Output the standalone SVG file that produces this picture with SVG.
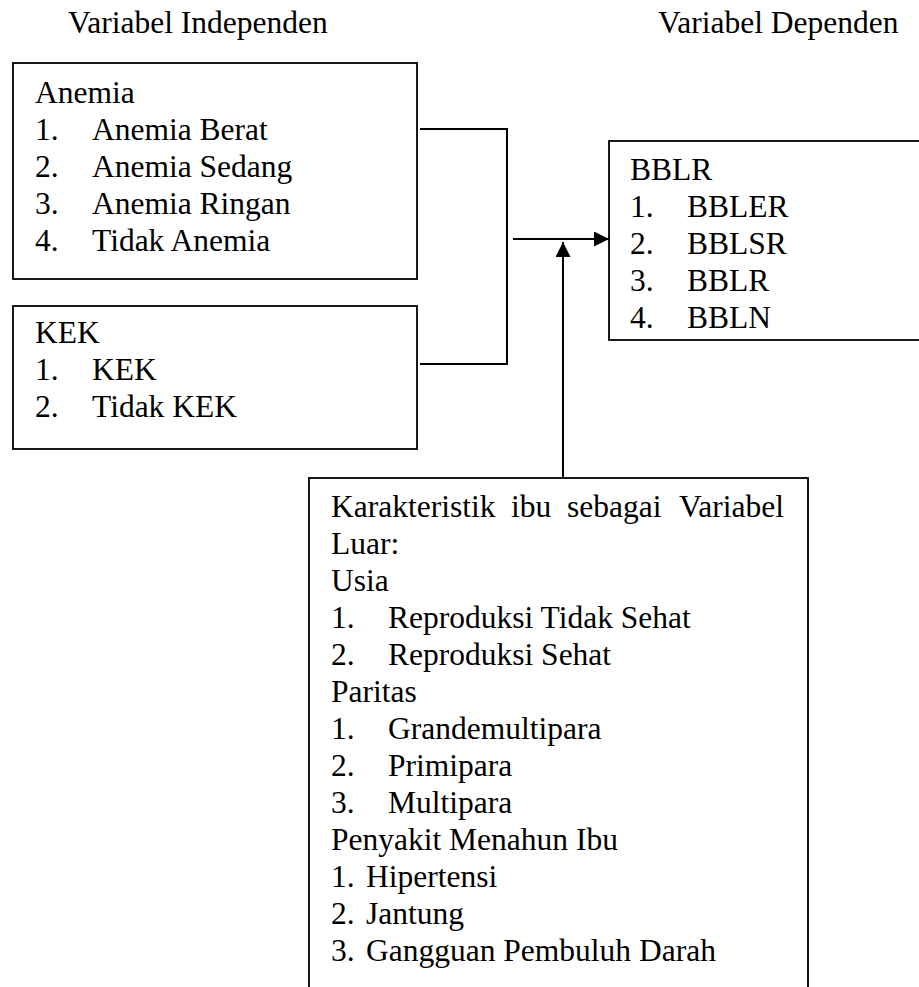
<svg xmlns="http://www.w3.org/2000/svg" width="919" height="987" viewBox="0 0 919 987">
<defs>
<style>
text{font-family:"Liberation Serif","Times New Roman",serif;font-size:31.5px;fill:#000}
.box{fill:#fff;stroke:#000;stroke-width:1.8}
.ln{fill:none;stroke:#000;stroke-width:2}
</style>
<marker id="ah" viewBox="0 0 15 15" refX="15" refY="7.5" markerWidth="15" markerHeight="15" markerUnits="userSpaceOnUse" orient="auto">
<path d="M0,0 L15,7.5 L0,15 Z" fill="#000"/>
</marker>
</defs>
<rect width="919" height="987" fill="#fff"/>
<text x="68" y="33">Variabel Independen</text>
<text x="658" y="33">Variabel Dependen</text>
<g id="anemia">
<rect class="box" x="13" y="63" width="404" height="216"/>
<text x="35" y="103">Anemia</text>
<text x="35" y="140">1.</text><text x="92" y="140">Anemia Berat</text>
<text x="35" y="177">2.</text><text x="92" y="177">Anemia Sedang</text>
<text x="35" y="214">3.</text><text x="92" y="214">Anemia Ringan</text>
<text x="35" y="251">4.</text><text x="92" y="251">Tidak Anemia</text>
</g>
<g id="kek">
<rect class="box" x="13" y="306" width="404" height="143"/>
<text x="35" y="343">KEK</text>
<text x="35" y="380">1.</text><text x="92" y="380">KEK</text>
<text x="35" y="417">2.</text><text x="92" y="417">Tidak KEK</text>
</g>
<g id="bblr">
<rect class="box" x="609" y="141" width="320" height="199"/>
<text x="630" y="180">BBLR</text>
<text x="630" y="217">1.</text><text x="687" y="217">BBLER</text>
<text x="630" y="254">2.</text><text x="687" y="254">BBLSR</text>
<text x="630" y="291">3.</text><text x="687" y="291">BBLR</text>
<text x="630" y="328">4.</text><text x="687" y="328">BBLN</text>
</g>
<g id="karakteristik">
<rect class="box" x="309" y="478" width="499" height="530"/>
<text y="517"><tspan x="331">Karakteristik</tspan><tspan x="511">ibu</tspan><tspan x="567">sebagai</tspan><tspan x="679">Variabel</tspan></text>
<text x="331" y="554">Luar:</text>
<text x="331" y="591">Usia</text>
<text x="331" y="628">1.</text><text x="388" y="628">Reproduksi Tidak Sehat</text>
<text x="331" y="665">2.</text><text x="388" y="665">Reproduksi Sehat</text>
<text x="331" y="702">Paritas</text>
<text x="331" y="739">1.</text><text x="388" y="739">Grandemultipara</text>
<text x="331" y="776">2.</text><text x="388" y="776">Primipara</text>
<text x="331" y="813">3.</text><text x="388" y="813">Multipara</text>
<text x="331" y="850">Penyakit Menahun Ibu</text>
<text x="331" y="887">1.</text><text x="366" y="887">Hipertensi</text>
<text x="331" y="924">2.</text><text x="366" y="924">Jantung</text>
<text x="331" y="961">3.</text><text x="366" y="961">Gangguan Pembuluh Darah</text>
</g>
<g id="connectors">
<polyline class="ln" points="420,129 507,129 507,364 420,364"/>
<line class="ln" x1="513" y1="239" x2="609" y2="239" marker-end="url(#ah)"/>
<line class="ln" x1="563" y1="477" x2="563" y2="242" marker-end="url(#ah)"/>
</g>
</svg>
